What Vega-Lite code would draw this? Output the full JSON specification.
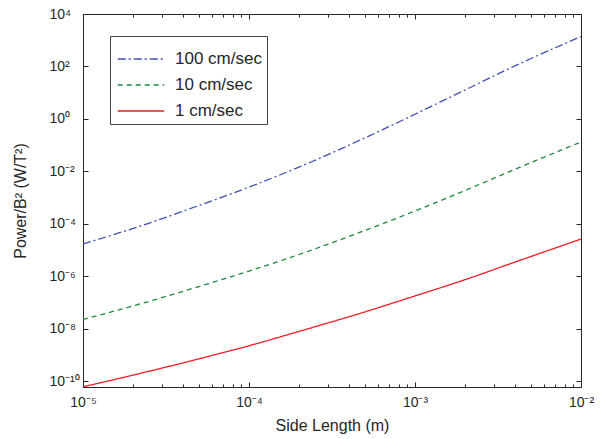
{
  "$schema": "https://vega.github.io/schema/vega-lite/v6.json",
  "width": 498,
  "height": 373,
  "autosize": "none",
  "padding": {"left": 83, "top": 14, "right": 24, "bottom": 52},
  "config": {
    "font": "Liberation Sans",
    "view": {"stroke": "#262626", "strokeWidth": 1},
    "axis": {"domainColor": "#262626", "tickColor": "#262626", "labelColor": "#262626", "titleColor": "#262626", "grid": false, "labelFontSize": 14, "titleFontSize": 16, "titleFontWeight": "normal"}
  },
  "data": {
    "values": [
      {"series": "100 cm/sec", "x": 1e-5, "y": 1.7e-5},
      {"series": "100 cm/sec", "x": 2.3e-5, "y": 8.9e-5},
      {"series": "100 cm/sec", "x": 5e-5, "y": 5.0e-4},
      {"series": "100 cm/sec", "x": 1e-4, "y": 2.51e-3},
      {"series": "100 cm/sec", "x": 2e-4, "y": 1.45e-2},
      {"series": "100 cm/sec", "x": 5e-4, "y": 0.19},
      {"series": "100 cm/sec", "x": 1e-3, "y": 1.51},
      {"series": "100 cm/sec", "x": 2e-3, "y": 12.6},
      {"series": "100 cm/sec", "x": 4e-3, "y": 105},
      {"series": "100 cm/sec", "x": 1e-2, "y": 1380},
      {"series": "10 cm/sec", "x": 1e-5, "y": 2.24e-8},
      {"series": "10 cm/sec", "x": 2.3e-5, "y": 9.5e-8},
      {"series": "10 cm/sec", "x": 5e-5, "y": 4.07e-7},
      {"series": "10 cm/sec", "x": 1e-4, "y": 1.58e-6},
      {"series": "10 cm/sec", "x": 2e-4, "y": 6.76e-6},
      {"series": "10 cm/sec", "x": 5e-4, "y": 5.6e-5},
      {"series": "10 cm/sec", "x": 1e-3, "y": 3.09e-4},
      {"series": "10 cm/sec", "x": 2e-3, "y": 1.86e-3},
      {"series": "10 cm/sec", "x": 4e-3, "y": 1.2e-2},
      {"series": "10 cm/sec", "x": 1e-2, "y": 0.132},
      {"series": "1 cm/sec", "x": 1e-5, "y": 6.1e-11},
      {"series": "1 cm/sec", "x": 2.3e-5, "y": 2.1e-10},
      {"series": "1 cm/sec", "x": 5e-5, "y": 7.1e-10},
      {"series": "1 cm/sec", "x": 1e-4, "y": 2.24e-9},
      {"series": "1 cm/sec", "x": 2e-4, "y": 7.9e-9},
      {"series": "1 cm/sec", "x": 5e-4, "y": 4.4e-8},
      {"series": "1 cm/sec", "x": 1e-3, "y": 1.78e-7},
      {"series": "1 cm/sec", "x": 2e-3, "y": 7.4e-7},
      {"series": "1 cm/sec", "x": 4e-3, "y": 3.47e-6},
      {"series": "1 cm/sec", "x": 1e-2, "y": 2.63e-5}
    ]
  },
  "layer": [
    {
      "mark": {"type": "line", "strokeWidth": 1.3, "clip": true, "interpolate": "monotone"},
      "encoding": {
        "x": {
          "field": "x", "type": "quantitative",
          "scale": {"type": "log", "domain": [1e-5, 1e-2], "nice": false},
          "axis": {
            "orient": "bottom",
            "title": "Side Length (m)",
            "titlePadding": 6,
            "values": [1e-5, 2e-5, 3e-5, 4e-5, 5e-5, 6e-5, 7e-5, 8e-5, 9e-5, 1e-4, 2e-4, 3e-4, 4e-4, 5e-4, 6e-4, 7e-4, 8e-4, 9e-4, 1e-3, 2e-3, 3e-3, 4e-3, 5e-3, 6e-3, 7e-3, 8e-3, 9e-3, 1e-2],
            "labelExpr": "abs(log(datum.value)/LN10 - round(log(datum.value)/LN10)) < 0.01 ? {'-5':'10⁻⁵','-4':'10⁻⁴','-3':'10⁻³','-2':'10⁻²'}['' + round(log(datum.value)/LN10)] : ''",
            "tickSize": {"condition": {"test": "abs(log(datum.value)/LN10 - round(log(datum.value)/LN10)) < 0.01", "value": -5}, "value": -3},
            "labelPadding": 13,
            "labelDx": 3,
            "labelFlush": false,
            "labelOverlap": false
          }
        },
        "y": {
          "field": "y", "type": "quantitative",
          "scale": {"type": "log", "domain": [6e-11, 1e4], "nice": false},
          "axis": {
            "orient": "left",
            "title": "Power/B² (W/T²)",
            "titlePadding": 21,
            "values": [1e-10, 1e-8, 1e-6, 1e-4, 1e-2, 1, 100, 10000],
            "labelExpr": "{'-10':'10⁻¹⁰','-8':'10⁻⁸','-6':'10⁻⁶','-4':'10⁻⁴','-2':'10⁻²','0':'10⁰','2':'10²','4':'10⁴'}['' + round(log(datum.value)/LN10)]",
            "tickSize": -5,
            "labelAlign": "left",
            "labelPadding": 39,
            "labelFlush": false,
            "labelOverlap": false
          }
        },
        "color": {
          "field": "series", "type": "nominal",
          "scale": {"domain": ["100 cm/sec", "10 cm/sec", "1 cm/sec"], "range": ["#3f51b5", "#1b8a3c", "#ee1d23"]},
          "legend": {
            "title": null, "orient": "none", "legendX": 27, "legendY": 22,
            "symbolType": "M-0.9,0H1.84", "symbolSize": 1150, "symbolStrokeWidth": 1.3, "symbolFillColor": "transparent",
            "labelFontSize": 17, "labelColor": "#262626", "labelOffset": 24,
            "strokeColor": "#444444", "fillColor": "white", "padding": 5, "rowPadding": 0
          }
        },
        "strokeDash": {
          "field": "series", "type": "nominal",
          "scale": {"domain": ["100 cm/sec", "10 cm/sec", "1 cm/sec"], "range": [[8, 3, 2, 3], [5, 4], [1, 0]]},
          "legend": {
            "title": null, "orient": "none", "legendX": 27, "legendY": 22,
            "symbolType": "M-0.9,0H1.84", "symbolSize": 1150, "symbolStrokeWidth": 1.3, "symbolFillColor": "transparent",
            "labelFontSize": 17, "labelColor": "#262626", "labelOffset": 24,
            "strokeColor": "#444444", "fillColor": "white", "padding": 5, "rowPadding": 0
          }
        }
      }
    },
    {
      "mark": {"type": "line", "opacity": 0},
      "encoding": {
        "x": {
          "field": "x", "type": "quantitative",
          "axis": {
            "orient": "top", "title": null, "labels": false, "domain": false,
            "values": [1e-5, 2e-5, 3e-5, 4e-5, 5e-5, 6e-5, 7e-5, 8e-5, 9e-5, 1e-4, 2e-4, 3e-4, 4e-4, 5e-4, 6e-4, 7e-4, 8e-4, 9e-4, 1e-3, 2e-3, 3e-3, 4e-3, 5e-3, 6e-3, 7e-3, 8e-3, 9e-3, 1e-2],
            "tickSize": {"condition": {"test": "abs(log(datum.value)/LN10 - round(log(datum.value)/LN10)) < 0.01", "value": -5}, "value": -3}
          }
        },
        "y": {
          "field": "y", "type": "quantitative",
          "axis": {
            "orient": "right", "title": null, "labels": false, "domain": false,
            "values": [1e-10, 1e-8, 1e-6, 1e-4, 1e-2, 1, 100, 10000],
            "tickSize": -5
          }
        },
        "detail": {"field": "series"}
      }
    }
  ],
  "resolve": {"axis": {"x": "independent", "y": "independent"}}
}
